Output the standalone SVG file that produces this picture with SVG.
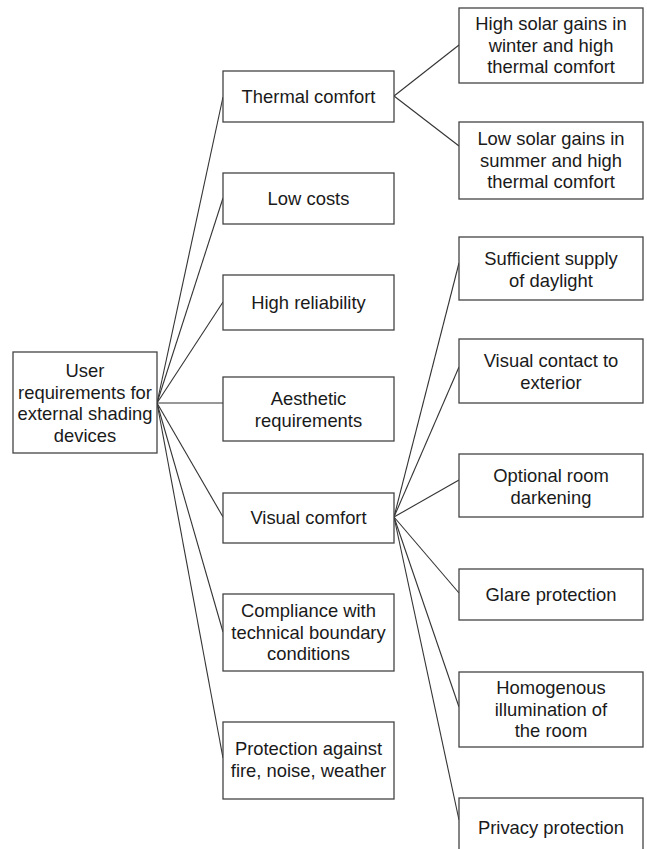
<svg xmlns="http://www.w3.org/2000/svg" width="647" height="849" viewBox="0 0 647 849">
<style>
rect{fill:#fff;stroke:#444;stroke-width:1.3}
text{font-family:"Liberation Sans",Arial,sans-serif;font-size:18.4px;fill:#1a1a1a;text-anchor:middle}
#connectors line{stroke:#333;stroke-width:1.1}
</style>
<rect x="0" y="0" width="647" height="849" style="stroke:none"/>
<g id="connectors">
<line x1="157" y1="403" x2="223" y2="97"/>
<line x1="157" y1="403" x2="223" y2="198"/>
<line x1="157" y1="403" x2="223" y2="302"/>
<line x1="157" y1="403" x2="223" y2="403"/>
<line x1="157" y1="403" x2="223" y2="517"/>
<line x1="157" y1="403" x2="223" y2="632"/>
<line x1="157" y1="403" x2="223" y2="758"/>
<line x1="394" y1="96" x2="459" y2="45"/>
<line x1="394" y1="96" x2="459" y2="146"/>
<line x1="394" y1="517" x2="459" y2="263"/>
<line x1="394" y1="517" x2="459" y2="367"/>
<line x1="394" y1="517" x2="459" y2="480"/>
<line x1="394" y1="517" x2="459" y2="593"/>
<line x1="394" y1="517" x2="459" y2="707"/>
<line x1="394" y1="517" x2="459" y2="820"/>
</g>
<g id="root"><rect x="13" y="352" width="144" height="101"/>
<text x="85" y="377">User</text><text x="85" y="398.5">requirements for</text><text x="85" y="420">external shading</text><text x="85" y="441.5">devices</text></g>
<g id="thermal"><rect x="223" y="71" width="171" height="51"/><text x="308.5" y="103">Thermal comfort</text></g>
<g id="costs"><rect x="223" y="173" width="171" height="51"/><text x="308.5" y="205">Low costs</text></g>
<g id="reliability"><rect x="223" y="275" width="171" height="55"/><text x="308.5" y="309">High reliability</text></g>
<g id="aesthetic"><rect x="223" y="377" width="171" height="64"/><text x="308.5" y="405">Aesthetic</text><text x="308.5" y="426.5">requirements</text></g>
<g id="visual"><rect x="223" y="493" width="171" height="50"/><text x="308.5" y="524">Visual comfort</text></g>
<g id="compliance"><rect x="223" y="594" width="171" height="77"/><text x="308.5" y="617">Compliance with</text><text x="308.5" y="638.5">technical boundary</text><text x="308.5" y="660">conditions</text></g>
<g id="protection"><rect x="223" y="722" width="171" height="77"/><text x="308.5" y="755">Protection against</text><text x="308.5" y="776.5">fire, noise, weather</text></g>
<g id="winter"><rect x="459" y="8" width="184" height="75"/><text x="551" y="30">High solar gains in</text><text x="551" y="51.5">winter and high</text><text x="551" y="73">thermal comfort</text></g>
<g id="summer"><rect x="459" y="122" width="184" height="77"/><text x="551" y="145">Low solar gains in</text><text x="551" y="166.5">summer and high</text><text x="551" y="188">thermal comfort</text></g>
<g id="daylight"><rect x="459" y="237" width="184" height="63"/><text x="551" y="265">Sufficient supply</text><text x="551" y="286.5">of daylight</text></g>
<g id="contact"><rect x="459" y="339" width="184" height="64"/><text x="551" y="367">Visual contact to</text><text x="551" y="388.5">exterior</text></g>
<g id="darkening"><rect x="459" y="454" width="184" height="63"/><text x="551" y="482">Optional room</text><text x="551" y="503.5">darkening</text></g>
<g id="glare"><rect x="459" y="569" width="184" height="51"/><text x="551" y="601">Glare protection</text></g>
<g id="homogenous"><rect x="459" y="672" width="184" height="75"/><text x="551" y="694">Homogenous</text><text x="551" y="715.5">illumination of</text><text x="551" y="737">the room</text></g>
<g id="privacy"><rect x="459" y="798" width="184" height="70"/><text x="551" y="834">Privacy protection</text></g>
</svg>
